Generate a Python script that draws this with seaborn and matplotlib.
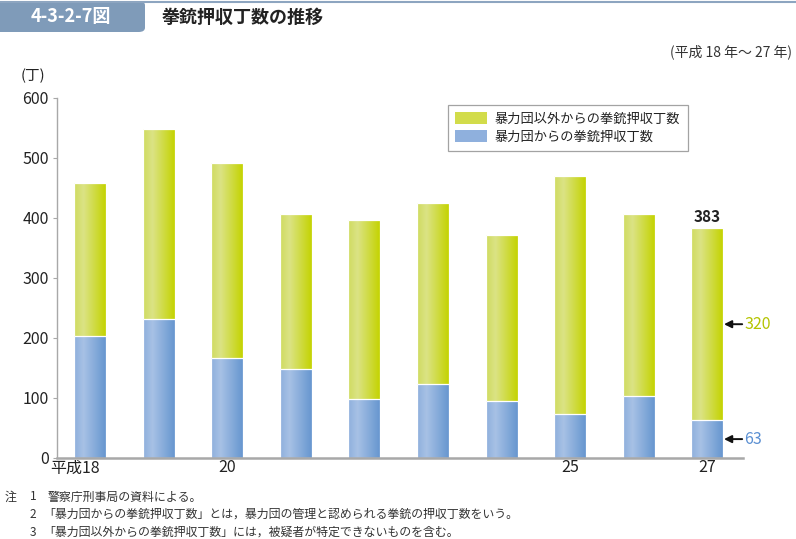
import numpy as np
import pandas as pd
import matplotlib
matplotlib.use("Agg")
import matplotlib.pyplot as plt
import matplotlib.transforms as mtransforms
import seaborn as sns
from matplotlib.patches import FancyBboxPatch, Patch
from matplotlib.colors import LinearSegmentedColormap

# ---- data ----
years = ["18", "19", "20", "21", "22", "23", "24", "25", "26", "27"]
tick_labels = ["平成18", "", "20", "", "", "", "", "25", "", "27"]
boryokudan = [204, 231, 166, 148, 98, 123, 95, 74, 104, 63]
other = [254, 317, 326, 259, 299, 302, 277, 396, 302, 320]
total = [b + o for b, o in zip(boryokudan, other)]
series_names = ["暴力団以外からの拳銃押収丁数", "暴力団からの拳銃押収丁数"]
notes = [
    ("注", "1", "警察庁刑事局の資料による。"),
    ("", "2", "「暴力団からの拳銃押収丁数」とは，暴力団の管理と認められる拳銃の押収丁数をいう。"),
    ("", "3", "「暴力団以外からの拳銃押収丁数」には，被疑者が特定できないものを含む。"),
]

green = "#cfda3c"
blue = "#86a9da"
green_txt = "#b4c400"
blue_txt = "#5a8fd2"
green_cmap = LinearSegmentedColormap.from_list("g", [(0, "#cfdb5e"), (0.3, "#dbe385"), (1, "#c4d300")])
blue_cmap = LinearSegmentedColormap.from_list("b", [(0, "#8eafdc"), (0.3, "#a7c1e5"), (1, "#6696cf")])

sns.set_theme(style="white")
plt.rcParams["font.family"] = ["Noto Sans CJK JP", "DejaVu Sans"]

W, H = 796, 539
fig = plt.figure(figsize=(W / 100, H / 100), dpi=100)
ax = fig.add_axes([57 / W, 81 / H, 686 / W, 360 / H])

df = pd.DataFrame({"year": years, "total": total, "boryoku": boryokudan})
sns.barplot(data=df, x="year", y="total", color=green, saturation=1, width=0.466,
            edgecolor="white", linewidth=0.9, ax=ax)
sns.barplot(data=df, x="year", y="boryoku", color=blue, saturation=1, width=0.466,
            edgecolor="white", linewidth=0.9, ax=ax)

# gradient fill clipped to each bar
grad = np.linspace(0, 1, 256).reshape(1, -1)
n = len(years)
for i, p in enumerate(ax.patches):
    x0, y0 = p.get_x(), p.get_y()
    w, h = p.get_width(), p.get_height()
    is_green = i < n
    base_z = 1 if is_green else 2
    im = ax.imshow(grad, extent=[x0, x0 + w, y0, y0 + h], aspect="auto",
                   cmap=green_cmap if is_green else blue_cmap, zorder=base_z,
                   interpolation="bilinear")
    im.set_clip_path(p)
    p.set_facecolor("none")
    p.set_zorder(base_z + 0.5)

ax.set_xlim(-0.48, 9.52)
ax.set_ylim(0, 600)
ax.set_yticks(range(0, 601, 100))
ax.set_xticks(range(n))
ax.set_xticklabels(tick_labels)
ax.set_xlabel("")
ax.set_ylabel("")
for s in ["top", "right"]:
    ax.spines[s].set_visible(False)
ax.spines["left"].set_color("#a8a8a8")
ax.spines["left"].set_linewidth(1.0)
ax.spines["bottom"].set_color("#a8a8a8")
ax.spines["bottom"].set_linewidth(1.8)
ax.tick_params(axis="y", left=True, length=3, width=0.8, color="#a8a8a8", pad=3,
               labelsize=11.5, labelcolor="#222222")
ax.tick_params(axis="x", bottom=False, length=0, pad=1, labelsize=11.5, labelcolor="#222222")
# align first label so that "18" sits under the bar
lbl0 = ax.get_xticklabels()[0]
lbl0.set_horizontalalignment("right")
lbl0.set_transform(lbl0.get_transform() + mtransforms.ScaledTranslation(0.095, 0, fig.dpi_scale_trans))

# annotations on last bar
last = n - 1
ax.text(last, total[last] + 6, str(total[last]), ha="center", va="bottom",
        fontsize=11, fontweight="bold", color="#222222")
bx = last + 0.466 / 2
for val, mid, col in [(other[last], boryokudan[last] + other[last] / 2, green_txt),
                      (boryokudan[last], boryokudan[last] / 2, blue_txt)]:
    ax.annotate("", xy=(bx + 0.01, mid), xytext=(bx + 0.275, mid),
                arrowprops=dict(arrowstyle="-|>", color="#111111", lw=1.4,
                                mutation_scale=11, shrinkA=0, shrinkB=0),
                annotation_clip=False)
    ax.text(bx + 0.31, mid, str(val), ha="left", va="center", fontsize=11.5,
            color=col, clip_on=False)

# legend
handles = [Patch(facecolor="#d2dc4a", edgecolor="none"),
           Patch(facecolor="#8fb0dd", edgecolor="none")]
leg = ax.legend(handles, series_names, loc="upper left",
                bbox_to_anchor=(448 / W, 1 - 105 / H), bbox_transform=fig.transFigure,
                fontsize=9.5, frameon=True, fancybox=False, handlelength=2.4,
                handleheight=1.0, handletextpad=0.6, labelspacing=0.35,
                borderpad=0.55, borderaxespad=0)
leg.get_frame().set_edgecolor("#8c8c8c")
leg.get_frame().set_linewidth(0.9)
for t in leg.get_texts():
    t.set_color("#222222")

# header
fig.add_artist(plt.Line2D([0, 1], [1 - 1.5 / H, 1 - 1.5 / H], transform=fig.transFigure,
                          color="#8da5c0", lw=1.5))
box = FancyBboxPatch((-10 / W, 1 - 32 / H), 155 / W, 31 / H,
                     boxstyle="round,pad=0,rounding_size=0.008", transform=fig.transFigure,
                     facecolor="#7f9bb9", edgecolor="none")
fig.add_artist(box)
fig.text(71 / W, 1 - 17 / H, "4-3-2-7図", ha="center", va="center", fontsize=13,
         fontweight="bold", color="white")
fig.text(162 / W, 1 - 17 / H, "拳銃押収丁数の推移", ha="left", va="center", fontsize=13,
         fontweight="bold", color="#222222")
fig.text(792 / W, 1 - 52 / H, "(平成 18 年～ 27 年)", ha="right", va="center", fontsize=10,
         color="#333333")
fig.text(33 / W, 1 - 76 / H, "(丁)", ha="center", va="center", fontsize=10.5, color="#222222")

# notes
for k, (a, b, c) in enumerate(notes):
    yy = 1 - (497 + k * 17.5) / H
    if a:
        fig.text(5 / W, yy, a, ha="left", va="center", fontsize=8.6, color="#333333")
    fig.text(30 / W, yy, b, ha="left", va="center", fontsize=8.6, color="#333333")
    fig.text((48 if k == 0 else 43) / W, yy, c, ha="left", va="center", fontsize=8.6, color="#333333")

fig.savefig("out.png", dpi=100)
